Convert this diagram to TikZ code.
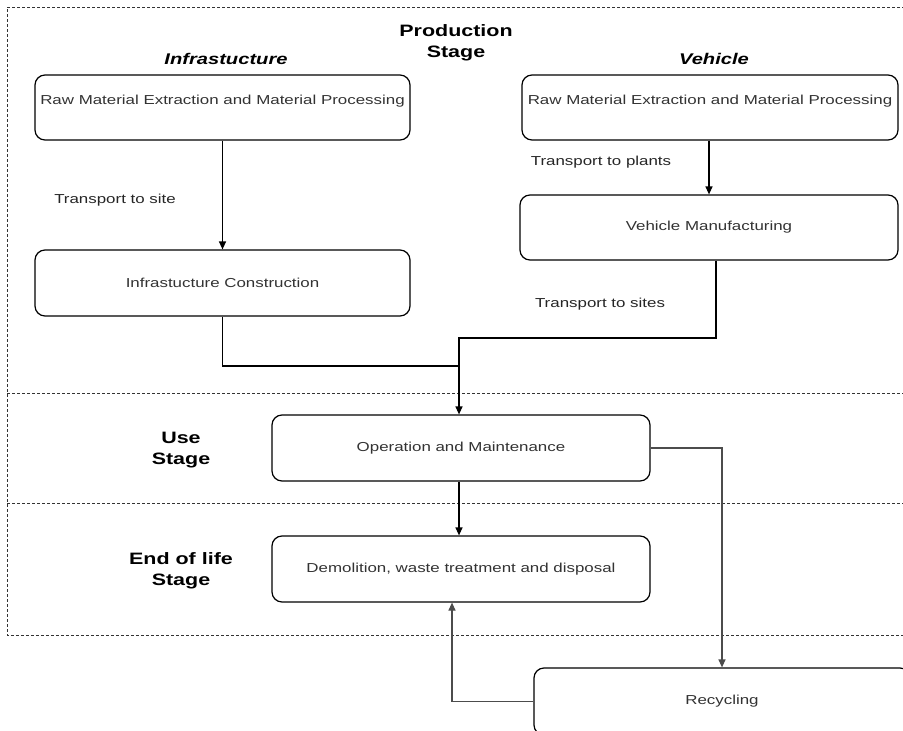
\documentclass[tikz,border=0pt]{standalone}
\usepackage{fontspec}
\setmainfont{Liberation Sans}
\usepackage{graphicx}
\usetikzlibrary{arrows.meta}
\newcommand{\hstr}[1]{\scalebox{1.3}[1]{#1}}
\tikzset{
  box/.style={draw=black, rounded corners=10pt, line width=1.2pt, inner sep=0pt,
    text=black!80, font=\fontsize{13}{15}\selectfont},
  boxtext/.style={text=black!80, font=\fontsize{13}{15}\selectfont, inner sep=0pt},
  lbl/.style={text=black!85, font=\fontsize{13}{15}\selectfont, inner sep=0pt},
  stagelbl/.style={font=\bfseries\fontsize{16.5}{21}\selectfont, align=center, inner sep=0pt},
  hdr/.style={font=\bfseries\itshape\fontsize{15.5}{18}\selectfont, inner sep=0pt},
  conn/.style={line width=1.2pt, draw=black},
  arr/.style={conn, -{Triangle[length=8pt,width=7pt]}},
  gconn/.style={line width=1.2pt, draw=black!70, -{Triangle[length=8pt,width=7pt]}},
  dashline/.style={draw=black!80, line width=0.8pt, dash pattern=on 3pt off 2pt},
}
\begin{document}
\begin{tikzpicture}[x=1pt, y=-1pt]
\useasboundingbox (0,0) rectangle (903,731);
\clip (0,0) rectangle (903,731);
\fill[white] (0,0) rectangle (903,731);

% dashed stage frames
\draw[dashline] (910,7) -- (7,7) -- (7,635) -- (910,635);
\draw[dashline] (7,393) -- (910,393);
\draw[dashline] (7,503) -- (910,503);

% stage labels
\node[stagelbl] (prod) at (456,43) {\hstr{Production}\\\hstr{Stage}};
\node[stagelbl] (use) at (181,450) {\hstr{Use}\\\hstr{Stage}};
\node[stagelbl] (eol) at (181,571) {\hstr{End of life}\\\hstr{Stage}};

% headers
\node[hdr] (hinfra) at (226,59) {\hstr{Infrastucture}};
\node[hdr] (hveh) at (714,59) {\hstr{Vehicle}};

% boxes
\node[box, minimum width=375pt, minimum height=65pt] (rmI) at (222.5,107.5) {};
\node[boxtext] (rmIt) at (222.5,101) {\hstr{Raw Material Extraction and Material Processing}};
\node[box, minimum width=376pt, minimum height=65pt] (rmV) at (710,107.5) {};
\node[boxtext] (rmVt) at (710,101) {\hstr{Raw Material Extraction and Material Processing}};
\node[box, minimum width=375pt, minimum height=66pt] (ic) at (222.5,283) {\hstr{Infrastucture Construction}};
\node[box, minimum width=378pt, minimum height=65pt] (vm) at (709,227.5) {\hstr{Vehicle Manufacturing}};
\node[box, minimum width=378pt, minimum height=66pt] (op) at (461,448) {\hstr{Operation and Maintenance}};
\node[box, minimum width=378pt, minimum height=66pt] (dem) at (461,569) {\hstr{Demolition, waste treatment and disposal}};
\node[box, minimum width=376pt, minimum height=67pt] (rec) at (722,701.5) {\hstr{Recycling}};

% connector labels
\node[lbl] (l1) at (115,200) {\hstr{Transport to site}};
\node[lbl] (l2) at (601,162) {\hstr{Transport to plants}};
\node[lbl] (l3) at (600,304) {\hstr{Transport to sites}};

% connectors
\coordinate (jv) at (459,338);
\coordinate (ji) at (459,366);
\draw[arr] (rmI.south) -- (ic.north);
\draw[arr] (rmV.south -| vm.north) -- (vm.north);
\draw[arr] ([xshift=7pt]vm.south) |- (jv) -- (jv |- op.north);
\draw[conn] (ic.south) |- (ji);
\draw[arr] (op.south -| jv) -- (jv |- dem.north);
\draw[gconn] (op.east) -| (rec.north);
\draw[gconn] (rec.west) -| ([xshift=-9pt]dem.south);
\end{tikzpicture}
\end{document}
